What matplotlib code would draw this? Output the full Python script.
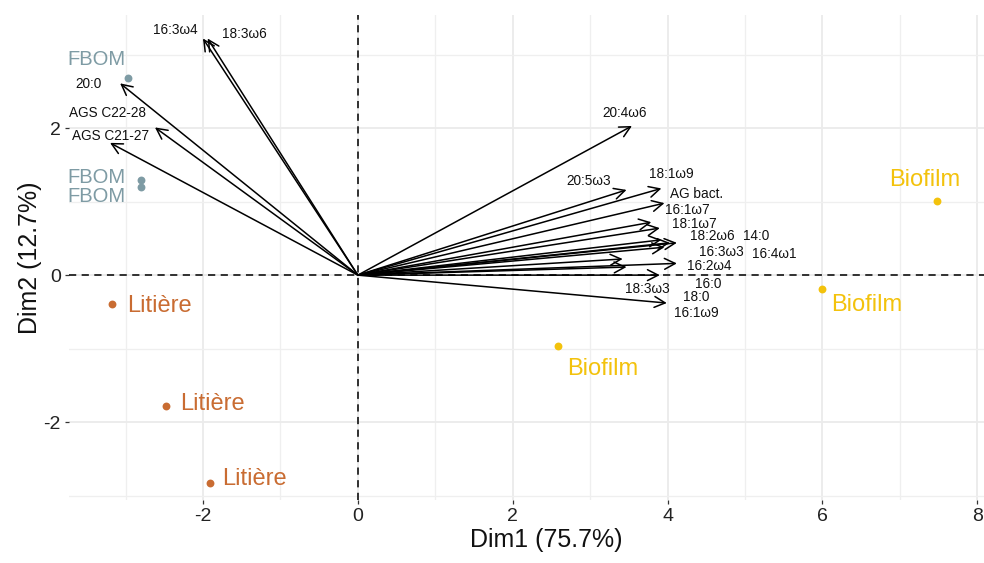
import numpy as np
import matplotlib.pyplot as plt
from matplotlib.patches import ArrowStyle

plt.rcParams['font.family'] = ['Liberation Sans', 'DejaVu Sans']
plt.rcParams['axes.unicode_minus'] = False

# variables (acides gras) : coordonnees des fleches sur Dim1 / Dim2
var_names = ['16:3ω4', '18:3ω6', '20:0', 'AGS C22-28', 'AGS C21-27',
             '20:4ω6', '20:5ω3', '18:1ω9', 'AG bact.', '16:1ω7',
             '18:1ω7', '18:2ω6', '14:0', '16:3ω3', '16:4ω1',
             '16:2ω4', '16:0', '18:0', '18:3ω3', '16:1ω9']
var_x = [-2.00, -1.94, -3.07, -2.62, -3.20,
         3.54, 3.47, 3.92, 3.96, 3.79,
         3.90, 3.92, 4.12, 3.96, 4.03,
         4.12, 3.90, 3.47, 3.42, 3.99]
var_y = [3.22, 3.22, 2.61, 2.01, 1.80,
         2.03, 1.16, 1.18, 0.98, 0.72,
         0.64, 0.48, 0.44, 0.38, 0.44,
         0.16, 0.00, 0.11, 0.22, -0.38]

# individus (echantillons)
ind_group = ['FBOM', 'FBOM', 'FBOM',
             'Litière', 'Litière', 'Litière',
             'Biofilm', 'Biofilm', 'Biofilm']
ind_x = [-2.97, -2.80, -2.80, -3.17, -2.48, -1.91, 7.48, 5.99, 2.59]
ind_y = [2.68, 1.29, 1.20, -0.39, -1.78, -2.83, 1.01, -0.19, -0.97]

xlab = 'Dim1 (75.7%)'
ylab = 'Dim2 (12.7%)'

# position des etiquettes (repel a la main)
var_lab_pos = [(-2.36, 3.33), (-1.46, 3.28), (-3.48, 2.60), (-3.23, 2.20), (-3.20, 1.90),
               (3.45, 2.20), (2.98, 1.28), (4.05, 1.37), (4.37, 1.10), (4.25, 0.89),
               (4.35, 0.70), (4.58, 0.53), (5.15, 0.53), (4.70, 0.31), (5.38, 0.29),
               (4.54, 0.12), (4.52, -0.12), (4.37, -0.30), (3.74, -0.19), (4.37, -0.52)]
ind_lab_pos = [(-3.37, 2.93, 'center'), (-3.37, 1.33, 'center'), (-3.37, 1.07, 'center'),
               (-2.98, -0.42, 'left'), (-2.30, -1.76, 'left'), (-1.75, -2.78, 'left'),
               (7.32, 1.29, 'center'), (6.57, -0.41, 'center'), (3.16, -1.28, 'center')]

colors = {'FBOM': '#7E9BA4', 'Litière': '#C96C32', 'Biofilm': '#F3C20C'}
lab_size = {'FBOM': 14.5, 'Litière': 17, 'Biofilm': 17}

fig = plt.figure(figsize=(9.84, 5.63), dpi=100)
# le panneau depasse a droite (image recadree)
ax = fig.add_axes([69 / 984, 63 / 563, (1023 - 69) / 984, (500 - 15) / 563])

# grille
ax.set_xticks(np.arange(-2, 9, 2))
ax.set_xticks(np.arange(-3, 9, 2), minor=True)
ax.set_yticks([-2, 0, 2])
ax.set_yticks([-3, -1, 1, 3], minor=True)
ax.grid(which='major', color='#EBEBEB', lw=1.3, zorder=0)
ax.grid(which='minor', color='#EFEFEF', lw=0.9, zorder=0)
ax.set_axisbelow(True)
for s in ax.spines.values():
    s.set_visible(False)
ax.tick_params(which='major', length=3, width=0.9, color='#333333',
               labelsize=14, labelcolor='#222222', pad=3)
ax.tick_params(which='minor', length=0)

# axes 0 en tirets
ax.axhline(0, color='#222222', lw=1.3, ls=(0, (4, 3)), zorder=1)
ax.axvline(0, color='#222222', lw=1.3, ls=(0, (4, 3)), zorder=1)

# fleches des variables
astyle = ArrowStyle('->', head_length=0.55, head_width=0.28)
for name, vx, vy, (lx, ly) in zip(var_names, var_x, var_y, var_lab_pos):
    ax.annotate('', xy=(vx, vy), xytext=(0, 0),
                arrowprops=dict(arrowstyle=astyle, mutation_scale=14,
                                color='black', lw=1.1, shrinkA=0, shrinkB=0),
                zorder=3)
    ax.text(lx, ly, name, fontsize=9.8, color='#111111',
            ha='center', va='center', zorder=4)

# individus
for g, ix, iy, (lx, ly, ha) in zip(ind_group, ind_x, ind_y, ind_lab_pos):
    ax.scatter(ix, iy, s=32, color=colors[g], zorder=5, linewidths=0)
    ax.text(lx, ly, g, fontsize=lab_size[g], color=colors[g],
            ha=ha, va='center', zorder=5)

ax.set_xlim(-3.73, 8.59)
ax.set_ylim(-3.06, 3.54)
ax.set_xlabel(xlab, fontsize=18, color='#111111', labelpad=2)
ax.set_ylabel(ylab, fontsize=18, color='#111111', labelpad=1)

plt.savefig('out.png', dpi=100)
plt.close(fig)
